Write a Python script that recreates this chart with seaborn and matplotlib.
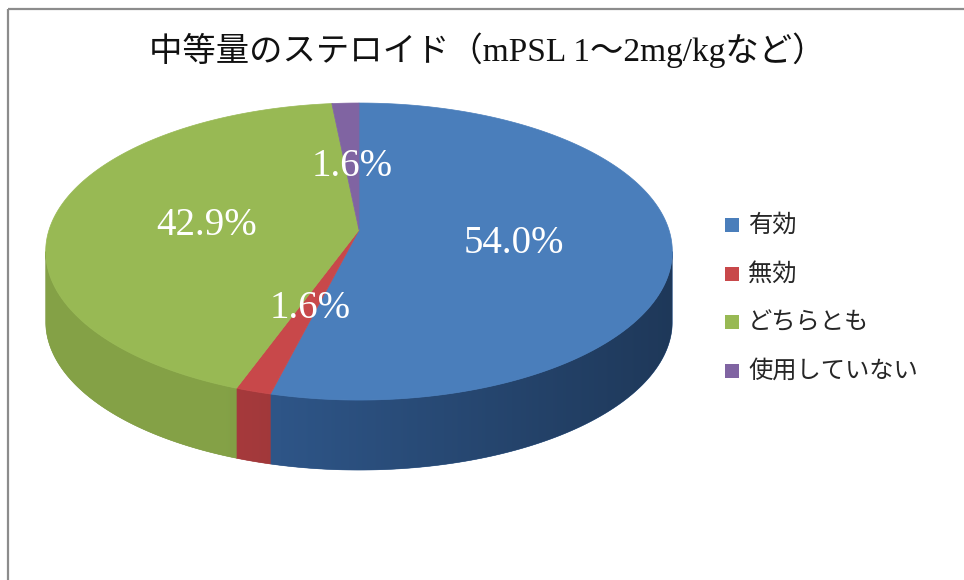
import numpy as np
import matplotlib
matplotlib.use("Agg")
import matplotlib.pyplot as plt
from matplotlib.patches import Polygon, Rectangle
from matplotlib.colors import to_rgb
import seaborn as sns

# ---- data ----
title = "中等量のステロイド（mPSL 1～2mg/kgなど）"
categories = ["有効", "無効", "どちらとも", "使用していない"]
shares = [54.0, 1.6, 42.9, 1.6]

# ---- style ----
sns.set_theme(style="white")
plt.rcParams["font.family"] = ["Noto Sans CJK JP", "DejaVu Sans"]
top_colors = sns.color_palette(["#4A7EBB", "#C8484A", "#98B954", "#8064A2"])
side_colors = sns.color_palette(["#2E5587", "#A0383A", "#7E9A43", "#5E4A7A"])

W, H = 964, 580
fig = plt.figure(figsize=(W / 100, H / 100), dpi=100)
ax = fig.add_axes([0, 0, 1, 1])
ax.set_xlim(0, W)
ax.set_ylim(H, 0)
ax.axis("off")

# chart frame
ax.add_patch(Rectangle((8, 9), W + 20, H + 20, fill=False,
                       edgecolor="#8C8C8C", linewidth=1.6, zorder=0))

# pie geometry in pixel space, with a simple perspective foreshortening
ox, oy = 359.0, 230.0      # projected pie centre
Rx, Ry = 310.0, 145.4      # radii before perspective
k = 0.145                  # perspective strength (front looks larger)
depth = 70.0


def project(t_deg, r=1.0):
    t = np.radians(t_deg)
    w = 1.0 + k * r * np.sin(t)
    return ox + r * Rx * np.cos(t) / w, oy - r * Ry * np.sin(t) / w


total = float(sum(shares))
bounds = [90.0]
for v in shares:
    bounds.append(bounds[-1] - 360.0 * v / total)

# visible part of the cylinder wall lies between the two vertical tangents
t_right = -np.degrees(np.arcsin(k))
t_left = -180.0 - t_right


def shade(x):
    c = np.clip((x - ox) / 313.0, -1, 1)
    return np.minimum(1.05, 1.0 - 0.27 * (c + 0.25))


# side walls
for i in range(len(shares)):
    start, end = bounds[i], bounds[i + 1]
    a, b = min(start, t_right), max(end, t_left)
    if a <= b:
        continue
    ts = np.linspace(a, b, 200)
    top = [project(t) for t in ts]
    bottom = [(x, y + depth) for x, y in top[::-1]]
    pts = np.array(top + bottom)
    base = np.array(to_rgb(side_colors[i]))
    poly = Polygon(pts, closed=True, facecolor=base, edgecolor=base,
                   linewidth=0.4, zorder=2)
    ax.add_patch(poly)
    x0, x1 = pts[:, 0].min(), pts[:, 0].max()
    y0, y1 = pts[:, 1].min(), pts[:, 1].max()
    xs = np.linspace(x0, x1, 300)
    grad = np.clip(base[None, :] * shade(xs)[:, None], 0, 1)[None, :, :]
    im = ax.imshow(grad, extent=[x0, x1, y1, y0], aspect="auto",
                   interpolation="bilinear", zorder=2.1)
    im.set_clip_path(poly)

# top faces
for i in range(len(shares)):
    ts = np.linspace(bounds[i], bounds[i + 1], 200)
    pts = [(ox, oy)] + [project(t) for t in ts]
    ax.add_patch(Polygon(pts, closed=True, facecolor=top_colors[i],
                         edgecolor=top_colors[i], linewidth=0.5, zorder=3))

ax.set_xlim(0, W)
ax.set_ylim(H, 0)

# value labels at the centre of each slice
for i, v in enumerate(shares):
    mid = 0.5 * (bounds[i] + bounds[i + 1])
    lx, ly = project(mid, 0.5)
    ax.text(lx, ly + 4, f"{v:.1f}%", ha="center", va="center", color="white",
            fontsize=28, family=["Liberation Serif", "Noto Sans CJK JP"],
            zorder=5)

# title
ax.text(487, 50, title, ha="center", va="center", fontsize=24,
        color="#111111", family=["Liberation Serif", "Noto Sans CJK JP"])

# legend
leg_x, leg_y, leg_step = 725, 225, 48.5
for i, lab in enumerate(categories):
    y = leg_y + i * leg_step
    ax.add_patch(Rectangle((leg_x, y - 7), 14, 14, facecolor=top_colors[i],
                           edgecolor="none", zorder=4))
    ax.text(leg_x + 23, y, lab, ha="left", va="center", fontsize=17.5,
            color="#262626", zorder=4)

fig.savefig("out.png", dpi=100)
